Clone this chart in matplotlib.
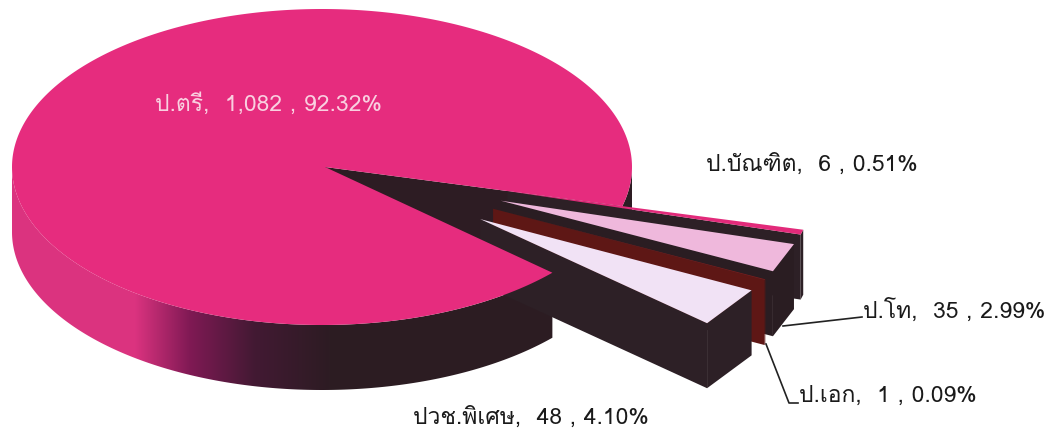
"""Exploded 3D pie of student counts by qualification, drawn in pixel space."""

import numpy as np
import matplotlib
matplotlib.use("Agg")
import matplotlib.pyplot as plt
from matplotlib.patches import Polygon

# slices clockwise from the lower cut of the big slice
categories = ["ปวช.พิเศษ", "ป.เอก", "ป.โท", "ป.บัณฑิต", "ป.ตรี"]
counts = [48, 1, 35, 6, 1082]
count_labels = ["48", "1", "35", "6", "1,082"]
percent_labels = ["4.10%", "0.09%", "2.99%", "0.51%", "92.32%"]

top_colors = ["#f1e2f5", "#7a1c1c", "#efb8dc", "#e22a7a", "#e62c7e"]
wall_colors = ["#2d2026", "#5e1715", "#2a1d22", "#2d2026", "#2d1c23"]

plt.rcParams["font.family"] = ["Loma", "DejaVu Sans"]

CX, CY = 322, 167
RX, RY = 310, 158
DEPTH = 65
START = 42.0
EXPLODE_X = 0.62
EXPLODE_Y = 0.58
SLICE_SCALE = 0.985


def rim(angles, cx=CX, cy=CY, scale=1.0):
    radians = np.radians(angles)
    return np.column_stack([cx + scale * RX * np.cos(radians), cy + scale * RY * np.sin(radians)])


def drop(points):
    return points + np.array([0, DEPTH])


def wall_polygon(points):
    return np.vstack([points, drop(points)[::-1]])


def wall_gradient(width):
    # pink on the lit left side, going dark towards the front
    x = np.arange(width) + 0.5
    stops = [0, 135, 190, 255, 330, width]
    reds = [0.86, 0.86, 0.50, 0.26, 0.176, 0.176]
    greens = [0.20, 0.20, 0.10, 0.10, 0.11, 0.11]
    blues = [0.50, 0.50, 0.33, 0.20, 0.137, 0.137]
    channels = [np.interp(x, stops, channel) for channel in (reds, greens, blues)]
    return np.dstack(channels)


figure = plt.figure(figsize=(10.61, 4.34), dpi=100)
axis = figure.add_axes([0, 0, 1, 1])
axis.set_xlim(0, 1061)
axis.set_ylim(434, 0)
axis.axis("off")

spans = 360 * np.asarray(counts) / sum(counts)
ends = START - np.cumsum(spans)
starts = ends + spans

big_start, big_end = starts[-1], ends[-1]
apex = np.array([[CX + 3, CY]])

# main pie, parts that sit behind the pulled out slices
right_arc = rim(np.linspace(big_start, 0, 20))
axis.fill(*wall_polygon(right_arc).T, color=wall_colors[-1], lw=0)
cut_face = np.vstack([apex, rim([big_start])])
axis.fill(*wall_polygon(cut_face).T, color=wall_colors[-1], lw=0)

# pulled out slices, back one first; their outer edges are straight in the original
for index in [3, 2, 1, 0]:
    middle = np.radians((starts[index] + ends[index]) / 2)
    tip_x = CX + EXPLODE_X * RX * np.cos(middle)
    tip_y = CY + EXPLODE_Y * RY * np.sin(middle)
    arc = rim(np.array([starts[index], ends[index]]), tip_x, tip_y, SLICE_SCALE)
    tip = np.array([[tip_x, tip_y]])
    axis.fill(*wall_polygon(np.vstack([tip, arc[:1]])).T, color=wall_colors[index], lw=0)
    axis.fill(*wall_polygon(arc).T, color=wall_colors[index], lw=0)
    axis.fill(*np.vstack([tip, arc]).T, color=top_colors[index], lw=0)

# main pie, front wall and top go over the slices
front = rim(np.linspace(180, START, 240))
wall_patch = Polygon(wall_polygon(front), closed=True, transform=axis.transData, facecolor="none", edgecolor="none")
axis.add_patch(wall_patch)
image = axis.imshow(wall_gradient(1061)[:1].repeat(434, axis=0), extent=(0, 1061, 434, 0), aspect="auto", interpolation="nearest")
image.set_clip_path(wall_patch)
axis.set_xlim(0, 1061)
axis.set_ylim(434, 0)
top_arc = rim(np.linspace(big_end, big_start, 360))
axis.fill(*np.vstack([apex, top_arc]).T, color=top_colors[-1], lw=0)

# leader lines
axis.plot([783, 862], [326, 317], color="#222222", lw=1.2)
axis.plot([766, 789, 798], [344, 403, 403], color="#222222", lw=1.2)

labels = [f"{name},  {count} , {percent}" for name, count, percent in zip(categories, count_labels, percent_labels)]
positions = [(413, 418), (799, 396), (863, 311), (706, 165), (155, 104)]
text_colors = ["#1a1a1a", "#1a1a1a", "#1a1a1a", "#1a1a1a", "#f9d0e0"]
for label, (x, y), color in zip(labels, positions, text_colors):
    axis.text(x, y, label, color=color, fontsize=16.5, ha="left", va="center")

figure.savefig("out.png", dpi=100)
